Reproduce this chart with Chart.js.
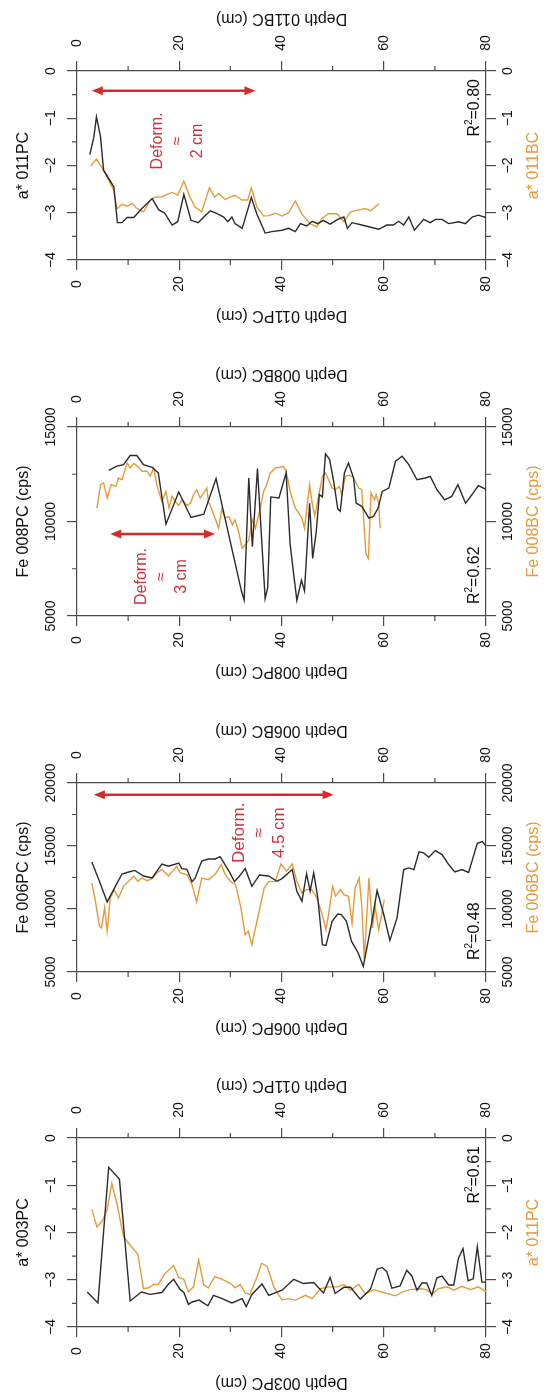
<!DOCTYPE html>
<html>
<head>
<meta charset="utf-8">
<title>Core correlation panels</title>
<script src="https://cdn.jsdelivr.net/npm/chart.js@4.4.1/dist/chart.umd.min.js"></script>
<style>
  html, body { margin: 0; padding: 0; background: #fff; }
  body { width: 549px; height: 1393px; overflow: hidden; position: relative; }
  .panel { position: absolute; left: 0; }
</style>
</head>
<body>
<canvas class="panel" id="p011" width="549" height="340" style="top:0px"></canvas>
<canvas class="panel" id="p008" width="549" height="340" style="top:356px"></canvas>
<canvas class="panel" id="p006" width="549" height="340" style="top:712px"></canvas>
<canvas class="panel" id="p003" width="549" height="340" style="top:1067px"></canvas>
<script>
// axis ticks
const depthTicks = [0, 20, 40, 60, 80];
const depthMinor = [10, 30, 50, 70];
const aStarTicks = [-4, -3, -2, -1, 0];
const aStarMinor = [-3.5, -2.5, -1.5, -0.5];
const fe006Ticks = [5000, 10000, 15000, 20000];
const fe006Minor = [7500, 12500, 17500];
const fe008Ticks = [5000, 10000, 15000];
const fe008Minor = [7500, 12500];

// panel 1 : 011PC vs 011BC (a*)
const pc011Depth = [2.5, 3.3, 3.8, 4.6, 5.2, 7.2, 7.9, 8.8, 9.8, 11.1, 12.7, 14.7, 16.0, 17.1, 18.6, 19.7, 20.9, 22.3, 23.7, 24.8,
  26.1, 27.4, 28.7, 29.5, 30.3, 30.9, 32.3, 34.1, 35.2, 36.8, 38.1, 40.1, 41.4, 42.7, 43.7, 44.9, 46.0, 47.1, 48.2, 49.5,
  51.0, 52.2, 52.9, 53.8, 55.7, 59.0, 60.6, 61.9, 62.9, 63.9, 64.9, 66.0, 67.8, 69.1, 70.1, 71.4, 72.7, 74.7, 76.0, 77.3, 78.5, 80];
const pc011Astar = [-1.77, -1.40, -0.97, -1.39, -2.10, -2.45, -3.21, -3.21, -3.10, -3.10, -2.91, -2.70, -2.94, -3.00, -3.26, -3.19, -2.61, -3.16, -3.21, -3.09,
  -2.96, -3.02, -3.09, -3.19, -3.09, -3.23, -3.33, -2.68, -3.03, -3.43, -3.40, -3.37, -3.33, -3.40, -3.23, -3.28, -3.18, -3.23, -3.16, -3.24,
  -3.14, -3.09, -3.33, -3.21, -3.26, -3.35, -3.26, -3.26, -3.18, -3.26, -3.09, -3.37, -3.14, -3.21, -3.14, -3.14, -3.23, -3.19, -3.23, -3.09, -3.05, -3.10];
const bc011Depth = [2.7, 3.8, 4.9, 5.5, 7.2, 7.8, 8.8, 9.8, 10.8, 11.7, 13.0, 14.3, 15.3, 16.6, 18.6, 19.7, 20.9, 22.1, 23.1, 24.4,
  25.9, 26.9, 27.7, 29.0, 29.9, 30.9, 32.3, 33.4, 34.1, 35.2, 36.5, 37.5, 38.8, 40.1, 41.4, 42.7, 44.0, 45.6, 46.9, 47.9,
  49.2, 50.9, 52.2, 53.5, 55.1, 56.4, 57.4, 58.3, 59.1];
const bc011Astar = [-2.01, -1.86, -2.05, -2.17, -2.52, -2.92, -2.82, -2.86, -2.80, -2.91, -2.98, -2.74, -2.67, -2.66, -2.57, -2.63, -2.33, -2.67, -2.88, -2.98,
  -2.47, -2.67, -2.59, -2.72, -2.67, -2.63, -2.73, -2.73, -2.47, -2.88, -3.07, -3.06, -3.01, -3.07, -3.00, -2.75, -3.03, -3.23, -3.30, -3.12,
  -3.02, -3.02, -3.19, -2.98, -2.94, -2.91, -2.96, -2.88, -2.81];

// panel 2 : 008PC vs 008BC (Fe)
const pc008Depth = [6.2, 7.8, 9.1, 10.4, 11.7, 13.0, 14.7, 15.9, 17.4, 19.9, 22.3, 24.8, 27.2, 32.2, 32.7, 33.6, 34.3, 34.8, 35.3, 36.8,
  37.3, 37.9, 39.5, 40.9, 41.7, 43.0, 43.9, 44.5, 45.5, 46.1, 46.8, 47.4, 48.0, 48.6, 49.4, 50.2, 51.0, 51.5, 52.3, 53.1,
  54.1, 54.6, 55.7, 57.1, 58.0, 58.9, 59.7, 61.0, 62.3, 63.6, 64.9, 66.5, 68.1, 69.1, 70.4, 71.9, 73.3, 74.5, 76.0, 77.2, 78.5, 80];
const pc008Fe = [12710, 12930, 13010, 13490, 13490, 13010, 12870, 12570, 9860, 11560, 10210, 10390, 12270, 6280, 5840, 12300, 8670, 10700, 12800, 5920,
  6500, 11300, 11240, 12570, 8760, 5830, 6890, 6330, 10970, 8050, 9470, 11420, 11300, 13580, 13290, 12140, 10670, 10540, 12570, 13100,
  12300, 10970, 10800, 10180, 10270, 10710, 11590, 11770, 13190, 13450, 13010, 12210, 12300, 12390, 11680, 11150, 11330, 11950, 10970, 11400, 11900, 11700];
const bc008Depth = [3.9, 4.6, 5.2, 5.9, 6.7, 7.6, 8.1, 8.8, 9.3, 9.8, 10.4, 11.1, 11.9, 12.7, 13.7, 14.3, 15.0, 15.6, 16.6, 17.4,
  18.0, 18.6, 19.2, 19.9, 20.6, 21.5, 22.2, 22.8, 23.4, 24.1, 24.8, 25.4, 25.7, 26.4, 27.0, 27.7, 28.3, 29.0, 29.7, 30.4,
  30.9, 31.6, 32.3, 32.9, 33.6, 34.3, 34.9, 35.7, 36.5, 37.1, 37.8, 38.8, 39.8, 40.4, 40.9, 41.7, 42.7, 43.4, 44.0, 44.5,
  45.5, 46.0, 46.5, 47.0, 48.0, 48.6, 49.2, 49.9, 50.5, 51.3, 51.8, 52.5, 53.3, 54.1, 55.1, 55.7, 56.5, 57.0, 57.5, 58.2, 58.5, 59.0, 59.3];
const bc008Fe = [10710, 11950, 12040, 11240, 11950, 11860, 12300, 12210, 12660, 13100, 12830, 13070, 12920, 12660, 12660, 12390, 12830, 11950, 11060, 11590,
  10710, 11330, 11060, 10850, 11150, 10850, 10970, 11420, 11680, 11240, 11510, 11770, 11060, 10620, 10180, 9640, 10620, 10180, 10270, 9820,
  10090, 9470, 8580, 8760, 9020, 10090, 9640, 10530, 11590, 11950, 12570, 12830, 12870, 12920, 12660, 11600, 10710, 10440, 10180, 9640,
  11950, 10970, 10300, 10970, 12390, 12570, 12210, 11770, 11680, 11860, 11420, 12390, 12450, 12300, 11770, 11680, 8310, 8050, 11510, 11150, 11420, 10970, 9640];

// panel 3 : 006PC vs 006BC (Fe)
const pc006Depth = [2.9, 4.4, 5.9, 7.5, 8.8, 10.1, 11.3, 13.0, 14.7, 16.6, 17.9, 19.9, 20.5, 21.5, 22.5, 23.1, 24.4, 25.7, 27.0, 28.0,
  29.7, 30.8, 31.8, 32.9, 34.2, 35.7, 37.5, 39.1, 40.1, 42.1, 43.0, 44.0, 44.9, 45.6, 46.3, 47.1, 48.0, 48.7, 49.9, 51.0,
  51.7, 52.7, 53.7, 55.0, 56.0, 57.7, 58.7, 60.0, 61.2, 62.6, 63.9, 64.9, 65.9, 66.9, 67.8, 68.8, 70.1, 71.4, 72.7, 73.9,
  75.3, 76.6, 78.3, 79.3, 80];
const pc006Fe = [13730, 12190, 10560, 11790, 12780, 12940, 13060, 12620, 12460, 13570, 13400, 13650, 13200, 13150, 12170, 12450, 13810, 13970, 13970, 14160,
  13020, 12170, 12620, 13220, 11800, 12700, 12620, 12200, 12410, 13130, 11410, 10620, 12800, 11410, 12880, 10880, 7170, 7110, 9030, 9600,
  9550, 9030, 7430, 6510, 5440, 9030, 11460, 9560, 7510, 9290, 13130, 13260, 13130, 14530, 14450, 14110, 14640, 14320, 13530, 12940,
  13130, 12900, 15220, 15350, 15000];
const bc006Depth = [2.9, 3.5, 4.4, 4.8, 5.4, 5.9, 6.5, 7.3, 8.1, 9.1, 10.1, 11.1, 11.9, 12.7, 13.7, 14.7, 15.6, 16.6, 17.9, 19.5,
  20.2, 21.5, 22.5, 23.4, 24.4, 25.7, 27.0, 28.2, 29.0, 30.0, 31.0, 32.0, 32.9, 33.5, 34.2, 34.9, 35.7, 36.6, 37.5, 38.8,
  39.9, 41.0, 42.1, 43.0, 44.0, 44.9, 45.9, 46.9, 47.8, 48.7, 49.2, 50.0, 50.6, 51.5, 52.2, 53.1, 53.8, 54.4, 55.2, 55.7,
  56.2, 57.1, 57.8, 58.3, 59.0, 59.6, 60.1];
const bc006Fe = [12060, 10870, 8620, 8490, 10080, 8230, 10870, 11530, 10870, 11800, 12200, 12620, 12200, 12460, 12250, 12410, 12860, 13130, 12620, 13400,
  12860, 12730, 11930, 10560, 12460, 12330, 12730, 13530, 12730, 12200, 11930, 10220, 7960, 8230, 7170, 8490, 9940, 11660, 12170, 12200,
  13580, 13000, 13580, 12200, 11280, 11540, 11540, 10880, 9770, 8360, 9560, 11800, 11010, 11540, 11140, 11010, 8900, 11670, 12460, 10220,
  5990, 12460, 8490, 10220, 8360, 9560, 10750];

// panel 4 : 003PC vs 011PC (a*)
const pc003Depth = [2.0, 4.1, 6.2, 8.3, 10.4, 12.6, 14.3, 16.6, 17.9, 18.9, 20.2, 20.9, 21.8, 22.5, 23.9, 25.6, 26.7, 28.4, 30.3, 32.3,
  33.1, 34.2, 36.2, 37.5, 40.1, 42.4, 44.3, 46.3, 48.2, 49.5, 50.5, 52.2, 53.5, 55.4, 57.4, 58.7, 59.7, 60.6, 61.6, 63.2,
  64.5, 65.5, 66.5, 67.5, 68.4, 69.4, 70.4, 71.4, 72.7, 73.7, 74.6, 75.5, 76.5, 77.5, 78.3, 79.2, 80];
const pc003Astar = [-3.26, -3.49, -0.62, -0.87, -3.45, -3.26, -3.31, -3.27, -3.09, -2.99, -3.21, -3.27, -3.52, -3.47, -3.43, -3.55, -3.33, -3.40, -3.49, -3.40,
  -3.57, -3.31, -3.09, -3.33, -3.22, -2.99, -3.08, -3.06, -3.28, -2.95, -3.29, -3.16, -3.16, -3.41, -3.20, -2.78, -2.74, -2.83, -3.18, -3.13,
  -2.80, -2.92, -3.22, -3.07, -3.07, -3.33, -2.96, -2.92, -3.11, -3.11, -2.55, -2.34, -3.02, -2.98, -2.30, -3.05, -3.05];
const pc011bDepth = [2.9, 3.9, 5.0, 5.9, 6.8, 7.8, 9.1, 10.4, 11.9, 13.0, 14.0, 15.0, 15.9, 17.1, 18.9, 19.9, 20.9, 21.8, 22.8, 23.8,
  24.8, 25.7, 26.9, 28.0, 29.3, 30.3, 30.9, 31.9, 32.9, 33.8, 35.2, 36.1, 37.2, 38.5, 40.1, 41.4, 42.7, 44.7, 46.0, 47.6,
  49.2, 50.9, 52.2, 53.5, 55.1, 56.4, 58.0, 59.6, 61.3, 62.3, 63.6, 65.2, 67.2, 68.4, 69.4, 70.7, 72.4, 73.7, 75.3, 77.0, 78.5, 80];
const pc011bAstar = [-1.51, -1.88, -1.75, -1.52, -0.96, -1.38, -2.09, -2.27, -2.46, -3.19, -3.17, -3.10, -3.10, -2.88, -2.70, -2.95, -2.99, -3.26, -3.15, -2.58,
  -3.11, -3.17, -2.94, -2.97, -3.04, -3.10, -3.17, -3.10, -3.28, -3.31, -2.94, -2.65, -2.72, -3.15, -3.43, -3.40, -3.43, -3.33, -3.40, -3.19,
  -3.15, -3.15, -3.10, -3.22, -3.10, -3.30, -3.21, -3.26, -3.31, -3.34, -3.26, -3.21, -3.19, -3.21, -3.31, -3.19, -3.15, -3.22, -3.14, -3.21, -3.15, -3.25];

const FONT = '"Liberation Sans", Arial, Helvetica, sans-serif';
const AXIS = '#4a4a4a';
const BLACK = '#2b2b2b';
const ORANGE = '#e59a3c';
const RED = '#d62a2a';

function pts(xs, ys) {
  return xs.map((x, i) => ({ x: x, y: ys[i] }));
}

function rotText(ctx, txt, x, y, angle, align) {
  ctx.save();
  ctx.translate(x, y);
  ctx.rotate(angle);
  ctx.textAlign = align || 'center';
  ctx.textBaseline = 'middle';
  ctx.fillText(txt, 0, 0);
  ctx.restore();
}

function drawR2(ctx, r2, x, y, anchor) {
  ctx.save();
  ctx.translate(x, y);
  ctx.rotate(-Math.PI / 2);
  ctx.textBaseline = 'middle';
  ctx.textAlign = 'left';
  ctx.fillStyle = '#111';
  const big = '16px ' + FONT, small = '10px ' + FONT;
  const rest = '=' + r2;
  ctx.font = big;
  const wR = ctx.measureText('R').width;
  const wRest = ctx.measureText(rest).width;
  ctx.font = small;
  const w2 = ctx.measureText('2').width;
  const s = anchor === 'end' ? -(wR + w2 + wRest) : 0;
  ctx.font = big;
  ctx.fillText('R', s, 0);
  ctx.font = small;
  ctx.fillText('2', s + wR, -6);
  ctx.font = big;
  ctx.fillText(rest, s + wR + w2, 0);
  ctx.restore();
}

function drawArrow(ctx, x1, x2, y) {
  ctx.strokeStyle = RED;
  ctx.fillStyle = RED;
  ctx.lineWidth = 2.5;
  ctx.beginPath();
  ctx.moveTo(x1 + 8, y);
  ctx.lineTo(x2 - 8, y);
  ctx.stroke();
  ctx.beginPath();
  ctx.moveTo(x1, y); ctx.lineTo(x1 + 11, y - 4.5); ctx.lineTo(x1 + 11, y + 4.5);
  ctx.closePath();
  ctx.moveTo(x2, y); ctx.lineTo(x2 - 11, y - 4.5); ctx.lineTo(x2 - 11, y + 4.5);
  ctx.closePath();
  ctx.fill();
}

function textPlugin(p) {
  return {
    id: 'panelText',
    afterDraw(chart) {
      const ctx = chart.ctx;
      const a = chart.chartArea;
      const sx = chart.scales.x, sy = chart.scales.y, sy2 = chart.scales.y2;
      ctx.save();

      // minor ticks
      ctx.strokeStyle = AXIS;
      ctx.lineWidth = 1.2;
      ctx.beginPath();
      depthMinor.forEach(d => {
        const px = sx.getPixelForValue(d);
        ctx.moveTo(px, a.top); ctx.lineTo(px, a.top - 5);
        ctx.moveTo(px, a.bottom); ctx.lineTo(px, a.bottom + 5);
      });
      p.minor.forEach(v => {
        const py = sy.getPixelForValue(v);
        ctx.moveTo(a.left, py); ctx.lineTo(a.left - 5, py);
        ctx.moveTo(a.right, py); ctx.lineTo(a.right + 5, py);
      });
      ctx.stroke();

      // tick labels
      ctx.fillStyle = '#111';
      ctx.font = '14px ' + FONT;
      depthTicks.forEach(d => {
        const px = sx.getPixelForValue(d);
        rotText(ctx, String(d), px, a.bottom + 24, -Math.PI / 2);
        rotText(ctx, String(d), px, a.top - 28, -Math.PI / 2);
      });
      p.ticks.forEach(v => {
        const lbl = String(v).replace('-', '\u2212');
        rotText(ctx, lbl, a.left - 26, sy.getPixelForValue(v), -Math.PI / 2);
        rotText(ctx, lbl, a.right + 22, sy2.getPixelForValue(v), -Math.PI / 2);
      });

      // axis titles
      const cx = (a.left + a.right) / 2, cy = (a.top + a.bottom) / 2;
      ctx.font = '16px ' + FONT;
      rotText(ctx, p.bottomTitle, cx, a.bottom + 55, Math.PI);
      rotText(ctx, p.topTitle, cx, a.top - 53, Math.PI);
      rotText(ctx, p.leftTitle, a.left - 53, cy, -Math.PI / 2);
      ctx.fillStyle = ORANGE;
      rotText(ctx, p.rightTitle, a.right + 48, cy, -Math.PI / 2);

      // R2
      if (p.r2At === 'top') drawR2(ctx, p.r2, a.right - 11, a.top + 8, 'end');
      else drawR2(ctx, p.r2, a.right - 11, a.bottom - 12, 'start');

      // deformation arrow and note
      if (p.deform) {
        const d = p.deform;
        drawArrow(ctx, sx.getPixelForValue(d.from), sx.getPixelForValue(d.to), sy.getPixelForValue(d.at));
        ctx.fillStyle = '#d12f3a';
        ctx.font = d.size + 'px ' + FONT;
        const tx = sx.getPixelForValue(d.textDepth), ty = sy.getPixelForValue(d.textValue);
        ctx.save();
        ctx.translate(tx, ty);
        ctx.rotate(-Math.PI / 2);
        ctx.textAlign = 'center';
        ctx.textBaseline = 'middle';
        ['Deform.', '\u2248', d.label].forEach((t, i) => ctx.fillText(t, 0, (i - 1) * 20));
        ctx.restore();
      }
      ctx.restore();
    }
  };
}

function axis(pos, min, max, tickVals, size) {
  return {
    type: 'linear',
    position: pos,
    min: min,
    max: max,
    afterBuildTicks: s => { s.ticks = tickVals.map(v => ({ value: v })); },
    afterFit: s => {
      if (s.isHorizontal()) s.height = size;
      else s.width = size;
    },
    ticks: { display: false },
    grid: { drawOnChartArea: false, drawTicks: true, tickLength: 10, color: AXIS, lineWidth: 1.2 },
    border: { display: true, color: AXIS, width: 1.2 }
  };
}

function makePanel(id, p) {
  new Chart(document.getElementById(id), {
    type: 'line',
    data: {
      datasets: [
        { data: pts(p.pcDepth, p.pcVal), xAxisID: 'x', yAxisID: 'y', borderColor: BLACK, borderWidth: 1.4, pointRadius: 0, tension: 0 },
        { data: pts(p.bcDepth, p.bcVal), xAxisID: 'x2', yAxisID: 'y2', borderColor: ORANGE, borderWidth: 1.4, pointRadius: 0, tension: 0 }
      ]
    },
    options: {
      responsive: false,
      animation: false,
      events: [],
      layout: { padding: 0 },
      plugins: { legend: { display: false }, tooltip: { enabled: false } },
      scales: {
        x: axis('bottom', 0, 80, depthTicks, 80),
        x2: axis('top', 0, 80, depthTicks, 71),
        y: axis('left', p.min, p.max, p.ticks, 77),
        y2: axis('right', p.min, p.max, p.ticks, 63)
      }
    },
    plugins: [textPlugin(p)]
  });
}

makePanel('p011', {
  pcDepth: pc011Depth, pcVal: pc011Astar, bcDepth: bc011Depth, bcVal: bc011Astar,
  min: -4, max: 0, ticks: aStarTicks, minor: aStarMinor,
  leftTitle: 'a* 011PC', rightTitle: 'a* 011BC',
  topTitle: 'Depth 011BC (cm)', bottomTitle: 'Depth 011PC (cm)',
  r2: '0.80', r2At: 'top',
  deform: { from: 2.9, to: 34.9, at: -0.42, textDepth: 19.6, textValue: -1.48, label: '2 cm', size: 16 }
});

makePanel('p008', {
  pcDepth: pc008Depth, pcVal: pc008Fe, bcDepth: bc008Depth, bcVal: bc008Fe,
  min: 5000, max: 15000, ticks: fe008Ticks, minor: fe008Minor,
  leftTitle: 'Fe 008PC (cps)', rightTitle: 'Fe 008BC (cps)',
  topTitle: 'Depth 008BC (cm)', bottomTitle: 'Depth 008PC (cm)',
  r2: '0.62', r2At: 'bottom',
  deform: { from: 6.5, to: 27.0, at: 9340, textDepth: 16.6, textValue: 7090, label: '3 cm', size: 16 }
});

makePanel('p006', {
  pcDepth: pc006Depth, pcVal: pc006Fe, bcDepth: bc006Depth, bcVal: bc006Fe,
  min: 5000, max: 20000, ticks: fe006Ticks, minor: fe006Minor,
  leftTitle: 'Fe 006PC (cps)', rightTitle: 'Fe 006BC (cps)',
  topTitle: 'Depth 006BC (cm)', bottomTitle: 'Depth 006PC (cm)',
  r2: '0.48', r2At: 'bottom',
  deform: { from: 3.3, to: 50.2, at: 19070, textDepth: 35.6, textValue: 16050, label: '4.5 cm', size: 17 }
});

makePanel('p003', {
  pcDepth: pc003Depth, pcVal: pc003Astar, bcDepth: pc011bDepth, bcVal: pc011bAstar,
  min: -4, max: 0, ticks: aStarTicks, minor: aStarMinor,
  leftTitle: 'a* 003PC', rightTitle: 'a* 011PC',
  topTitle: 'Depth 011PC (cm)', bottomTitle: 'Depth 003PC (cm)',
  r2: '0.61', r2At: 'top',
  deform: null
});
</script>
</body>
</html>
